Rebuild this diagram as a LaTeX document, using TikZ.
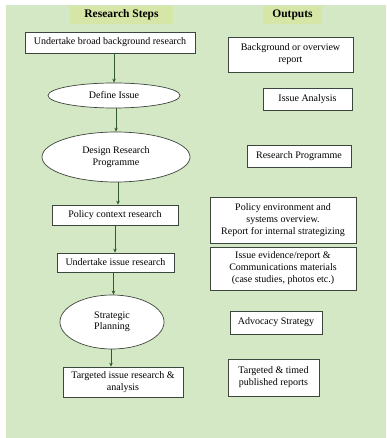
\documentclass[tikz,border=0pt]{standalone}
\usepackage{fontspec}
\setmainfont{Liberation Serif}
\usetikzlibrary{shapes.geometric,arrows.meta}
\definecolor{bggreen}{HTML}{D4E8C6}
\definecolor{hdr}{HTML}{D5E6A6}
\definecolor{edge}{HTML}{3C463C}
\definecolor{arr}{HTML}{2F5A2C}
\tikzset{
  hdrbox/.style={fill=hdr, inner sep=0pt, font=\fontsize{11.5}{13}\selectfont\bfseries},
  stepbox/.style={draw=edge, fill=white, line width=0.7pt, inner sep=1pt, align=center, font=\fontsize{10}{11.5}\selectfont},
  stepell/.style={draw=edge, fill=white, ellipse, line width=0.7pt, inner sep=0pt, align=center, font=\fontsize{10}{11.5}\selectfont},
  outbox/.style={draw=edge, fill=white, line width=0.9pt, inner sep=1pt, align=center, font=\fontsize{10}{12}\selectfont},
  flow/.style={draw=arr, line width=0.9pt, -{Stealth[length=4pt,width=3.5pt]}}
}
\begin{document}
\begin{tikzpicture}[x=1pt,y=-1pt]
\useasboundingbox (0,0) rectangle (386,438);
\fill[white] (0,0) rectangle (386,438);
\fill[bggreen] (6,5) rectangle (386,438);
\node[hdrbox, minimum width=103pt, minimum height=18pt] (h1) at (121.5,15) {Research Steps};
\node[hdrbox, minimum width=59pt, minimum height=18pt] (h2) at (292.5,15) {Outputs};
% steps
\node[stepbox, minimum width=170pt, minimum height=21pt] (s1) at (110,42.5) {Undertake broad background research};
\node[stepell, minimum width=132pt, minimum height=25pt] (s2) at (114,95.5) {Define Issue};
\node[stepell, minimum width=148pt, minimum height=50pt] (s3) at (116,157) {Design Research\\Programme};
\node[stepbox, minimum width=126pt, minimum height=20pt] (s4) at (115,215) {Policy context research};
\node[stepbox, minimum width=117pt, minimum height=19pt] (s5) at (115.5,262.5) {Undertake issue research};
\node[stepell, minimum width=104pt, minimum height=54pt] (s6) at (112,322) {Strategic\\Planning};
\node[stepbox, minimum width=120pt, minimum height=30pt] (s7) at (123,382) {Targeted issue research \&\\analysis};
% outputs
\node[outbox, minimum width=125pt, minimum height=35pt] (o1) at (290.5,54.5) {Background or overview\\report};
\node[outbox, minimum width=89pt, minimum height=22pt] (o2) at (307.5,99) {Issue Analysis};
\node[outbox, minimum width=104pt, minimum height=22pt] (o3) at (299,156) {Research Programme};
\node[outbox, minimum width=146pt, minimum height=46pt] (o4) at (283,220) {Policy environment and\\systems overview.\\Report for internal strategizing};
\node[outbox, minimum width=146pt, minimum height=43pt] (o5) at (283,268.5) {Issue evidence/report \&\\Communications materials\\(case studies, photos etc.)};
\node[outbox, minimum width=92pt, minimum height=23pt] (o6) at (276,322.5) {Advocacy Strategy};
\node[outbox, minimum width=91pt, minimum height=37pt] (o7) at (273.5,377.5) {Targeted \& timed\\published reports};
% arrows
\draw[flow] ([xshift=4pt]s1.south) -- ([xshift=4pt]s1.south |- s2.north);
\draw[flow] ([xshift=2pt]s2.south) -- ([xshift=2pt]s2.south |- s3.north);
\draw[flow] ([xshift=2pt]s3.south) -- ([xshift=2pt]s3.south |- s4.north);
\draw[flow] (s4.south) -- (s4.south |- s5.north);
\draw[flow] ([xshift=-2pt]s5.south) -- ([xshift=-2pt]s5.south |- s6.north);
\draw[flow] ([xshift=-1pt]s6.south) -- ([xshift=-1pt]s6.south |- s7.north);
\end{tikzpicture}
\end{document}
